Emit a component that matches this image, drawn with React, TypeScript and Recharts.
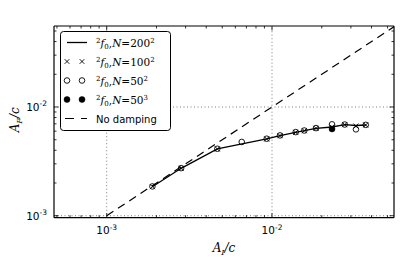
import React from 'react';
import { ComposedChart, Line, XAxis, YAxis, ReferenceLine } from 'recharts';

// ---- data ----
const xN200sq = [0.00189, 0.00282, 0.00467, 0.00929, 0.01118, 0.01391, 0.01568, 0.01846, 0.02307, 0.02754, 0.0322, 0.0369];
const yN200sq = [0.00185, 0.00273, 0.00411, 0.00508, 0.00545, 0.00585, 0.00605, 0.00637, 0.00655, 0.00688, 0.00676, 0.00683];

const xN100sq = [0.00189, 0.00282, 0.00467, 0.00929, 0.01118, 0.01391, 0.01568, 0.01846, 0.02307, 0.02754, 0.0322, 0.0369];
const yN100sq = [0.00185, 0.00273, 0.00411, 0.00508, 0.00545, 0.00585, 0.00605, 0.00637, 0.00655, 0.00688, 0.00668, 0.00683];

const xN50sq = [0.00189, 0.00282, 0.00467, 0.00656, 0.00929, 0.01118, 0.01391, 0.01568, 0.01846, 0.02307, 0.02754, 0.0322, 0.0369];
const yN50sq = [0.00186, 0.00274, 0.00413, 0.00477, 0.00511, 0.00548, 0.00588, 0.00608, 0.00640, 0.00693, 0.00690, 0.00623, 0.00685];

const xN50cube = [0.02307];
const yN50cube = [0.00628];

const xNoDamping = [0.001, 0.06];
const yNoDamping = [0.001, 0.06];

// ---- axes ----
const xDomain = [0.00048, 0.0547];
const yDomain = [0.000959, 0.0556];
const xTicks = [0.0005, 0.0006, 0.0007, 0.0008, 0.0009, 0.001, 0.002, 0.003, 0.004, 0.005, 0.006, 0.007, 0.008, 0.009, 0.01, 0.02, 0.03, 0.04, 0.05];
const yTicks = [0.001, 0.002, 0.003, 0.004, 0.005, 0.006, 0.007, 0.008, 0.009, 0.01, 0.02, 0.03, 0.04, 0.05];
const majorTicks = [0.001, 0.01];
const majorLabels = ['-3', '-2'];

const zip = (xs: number[], ys: number[]) => xs.map((x, i) => ({ x, y: ys[i] }));
const dataN200sq = zip(xN200sq, yN200sq);
const dataN100sq = zip(xN100sq, yN100sq);
const dataN50sq = zip(xN50sq, yN50sq);
const dataN50cube = zip(xN50cube, yN50cube);
const dataNoDamping = zip(xNoDamping, yNoDamping);

const SANS = 'DejaVu Sans';
const SERIF = 'DejaVu Serif';

const majorIndex = (v: number) => majorTicks.findIndex((m) => Math.abs(m - v) / m < 1e-6);

const Power = ({ x, y, anchor, idx }: any) => (
  <text x={x} y={y} textAnchor={anchor} fontFamily={SANS} fontSize={10.5} fill="#000">
    <tspan>10</tspan>
    <tspan fontSize={7.5} dy={-4.5}>{majorLabels[idx]}</tspan>
  </text>
);

const makeTick = (side: 'bottom' | 'top' | 'left' | 'right') => (props: any) => {
  const { x, y, payload } = props;
  const idx = majorIndex(payload.value);
  const len = idx >= 0 ? 4.5 : 2.5;
  let x2 = x, y2 = y;
  if (side === 'bottom') y2 = y - len;
  if (side === 'top') y2 = y + len;
  if (side === 'left') x2 = x + len;
  if (side === 'right') x2 = x - len;
  return (
    <g>
      <line x1={x} y1={y} x2={x2} y2={y2} stroke="#000" strokeWidth={0.8} />
      {idx >= 0 && side === 'bottom' && <Power x={x} y={y + 16.3} anchor="middle" idx={idx} />}
      {idx >= 0 && side === 'left' && <Power x={x - 7} y={y + 3.8} anchor="end" idx={idx} />}
    </g>
  );
};

const XMark = ({ cx, cy, s = 2.5 }: any) => (
  <path d={`M${cx - s},${cy - s}L${cx + s},${cy + s}M${cx - s},${cy + s}L${cx + s},${cy - s}`} stroke="#000" strokeWidth={0.9} fill="none" />
);
const OMark = ({ cx, cy }: any) => <circle cx={cx} cy={cy} r={2.8} fill="none" stroke="#000" strokeWidth={0.9} />;
const FMark = ({ cx, cy }: any) => <circle cx={cx} cy={cy} r={3} fill="#000" stroke="#000" strokeWidth={0.5} />;

const renderXLabel = (p: any) => {
  const vb = p.viewBox;
  return (
    <text x={vb.x + vb.width / 2} y={251.5} textAnchor="middle" fontFamily={SERIF} fontSize={12} fill="#000">
      <tspan fontStyle="italic">A</tspan>
      <tspan fontStyle="italic" fontSize={8} dy={3}>I</tspan>
      <tspan fontStyle="italic" dy={-3}>/c</tspan>
    </text>
  );
};

const renderYLabel = (p: any) => {
  const vb = p.viewBox;
  const cy = vb.y + vb.height / 2 - 2;
  return (
    <text x={19.5} y={cy} transform={`rotate(-90, 19.5, ${cy})`} textAnchor="middle" fontFamily={SERIF} fontSize={12} fill="#000">
      <tspan fontStyle="italic">A</tspan>
      <tspan fontStyle="italic" fontSize={8} dy={3}>F</tspan>
      <tspan fontStyle="italic" dy={-3}>/c</tspan>
    </text>
  );
};

const MathLabel = ({ x, y, n, e }: any) => (
  <text x={x} y={y} fontFamily={SERIF} fontSize={10.5} fill="#000">
    <tspan fontSize={7} dy={-4}>2</tspan>
    <tspan fontStyle="italic" dy={4}>f</tspan>
    <tspan fontSize={7} dy={2}>0</tspan>
    <tspan dy={-2}>,</tspan>
    <tspan fontStyle="italic">N</tspan>
    <tspan>={n}</tspan>
    <tspan fontSize={7} dy={-4}>{e}</tspan>
  </text>
);

const LegendBox = () => {
  const rows = [42.5, 61.5, 80.5, 99.5, 118.5];
  const tx = 96;
  return (
    <svg width={415} height={257} style={{ position: 'absolute', left: 0, top: 0, pointerEvents: 'none' }}>
      <rect x={60.5} y={31.5} width={110} height={99} rx={3} fill="#fff" stroke="#000" strokeWidth={1} />
      <line x1={67} x2={87} y1={rows[0]} y2={rows[0]} stroke="#000" strokeWidth={1.3} />
      <MathLabel x={tx} y={rows[0] + 4} n="200" e="2" />
      <XMark cx={67} cy={rows[1]} s={2.3} />
      <XMark cx={82} cy={rows[1]} s={2.3} />
      <MathLabel x={tx} y={rows[1] + 4} n="100" e="2" />
      <OMark cx={67} cy={rows[2]} />
      <OMark cx={82} cy={rows[2]} />
      <MathLabel x={tx} y={rows[2] + 4} n="50" e="2" />
      <FMark cx={67} cy={rows[3]} />
      <FMark cx={82} cy={rows[3]} />
      <MathLabel x={tx} y={rows[3] + 4} n="50" e="3" />
      <line x1={65} x2={87} y1={rows[4]} y2={rows[4]} stroke="#000" strokeWidth={1.2} strokeDasharray="9 7" />
      <text x={tx} y={rows[4] + 4} fontFamily={SANS} fontSize={10} fill="#000">No damping</text>
    </svg>
  );
};

export default function App() {
  const grid = { stroke: '#000', strokeOpacity: 0.65, strokeDasharray: '1 2.5', strokeWidth: 0.8 };
  const frame = { stroke: '#000', strokeWidth: 1.2 };
  return (
    <div style={{ position: 'absolute', left: 0, top: 0, width: 415, height: 257, background: '#fff' }}>
      <ComposedChart width={415} height={257} margin={{ top: 25, right: 20, bottom: 38.3, left: 53 }}>
        <XAxis xAxisId="b" orientation="bottom" type="number" dataKey="x" scale="log" domain={xDomain} allowDataOverflow
          ticks={xTicks} interval={0} height={1} tickSize={0} tickMargin={0} tickLine={false}
          axisLine={frame} tick={makeTick('bottom')} label={renderXLabel} />
        <XAxis xAxisId="t" orientation="top" type="number" dataKey="x" scale="log" domain={xDomain} allowDataOverflow
          ticks={xTicks} interval={0} height={1} tickSize={0} tickMargin={0} tickLine={false}
          axisLine={frame} tick={makeTick('top')} />
        <YAxis yAxisId="l" orientation="left" type="number" dataKey="y" scale="log" domain={yDomain} allowDataOverflow
          ticks={yTicks} interval={0} width={1} tickSize={0} tickMargin={0} tickLine={false}
          axisLine={frame} tick={makeTick('left')} label={renderYLabel} />
        <YAxis yAxisId="r" orientation="right" type="number" dataKey="y" scale="log" domain={yDomain} allowDataOverflow
          ticks={yTicks} interval={0} width={1} tickSize={0} tickMargin={0} tickLine={false}
          axisLine={frame} tick={makeTick('right')} />

        {majorTicks.map((v) => (
          <ReferenceLine key={`gx${v}`} xAxisId="b" yAxisId="l" x={v} {...grid} />
        ))}
        {majorTicks.map((v) => (
          <ReferenceLine key={`gy${v}`} xAxisId="b" yAxisId="l" y={v} {...grid} />
        ))}

        <Line xAxisId="b" yAxisId="l" data={dataNoDamping} dataKey="y" type="linear" stroke="#000" strokeWidth={1.2}
          strokeDasharray="8 5.5" dot={false} activeDot={false} isAnimationActive={false} />
        <Line xAxisId="b" yAxisId="l" data={dataN200sq} dataKey="y" type="linear" stroke="#000" strokeWidth={1.3}
          dot={false} activeDot={false} isAnimationActive={false} />
        <Line xAxisId="b" yAxisId="l" data={dataN100sq} dataKey="y" type="linear" stroke="none"
          dot={(p: any) => <XMark key={`x${p.index}`} cx={p.cx} cy={p.cy} />} activeDot={false} isAnimationActive={false} />
        <Line xAxisId="b" yAxisId="l" data={dataN50sq} dataKey="y" type="linear" stroke="none"
          dot={(p: any) => <OMark key={`o${p.index}`} cx={p.cx} cy={p.cy} />} activeDot={false} isAnimationActive={false} />
        <Line xAxisId="b" yAxisId="l" data={dataN50cube} dataKey="y" type="linear" stroke="none"
          dot={(p: any) => <FMark key={`f${p.index}`} cx={p.cx} cy={p.cy} />} activeDot={false} isAnimationActive={false} />
      </ComposedChart>
      <LegendBox />
    </div>
  );
}
